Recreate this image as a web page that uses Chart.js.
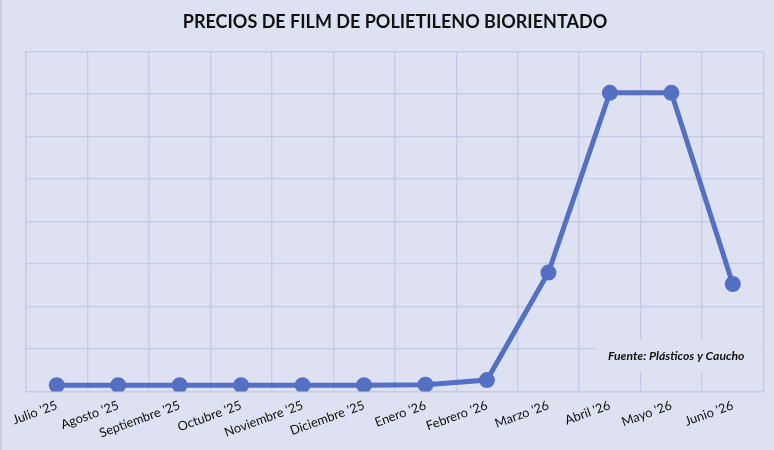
<!DOCTYPE html>
<html>
<head>
<meta charset="utf-8">
<script src="https://cdn.jsdelivr.net/npm/chart.js@4.4.0/dist/chart.umd.min.js"></script>
<style>
    html, body { margin: 0; padding: 0; background: #dde1f1; }
    #wrap { width: 772px; height: 450px; border-left: 2px solid #c9ccd8; }
</style>
</head>
<body>
<div id="wrap"><canvas id="precios" width="772" height="450"></canvas></div>
<script>
// Precios film BOPP, julio '25 - junio '26
const meses = ["Julio '25", "Agosto '25", "Septiembre '25", "Octubre '25", "Noviembre '25", "Diciembre '25",
    "Enero '26", "Febrero '26", "Marzo '26", "Abril '26", "Mayo '26", "Junio '26"];
const precios = [0.15, 0.15, 0.15, 0.15, 0.15, 0.15, 0.16, 0.27, 2.80, 7.03, 7.03, 2.53];
const fuente = 'Fuente: Plásticos y Caucho';

const BG = '#dde1f1';
const GRID = '#c3cbe6';
const LINE = '#5470c4';

// caja con la fuente, tapa la rejilla como en el original
const fuentePlugin = {
    id: 'fuente',
    beforeDatasetsDraw(chart) {
        const { ctx, chartArea } = chart;
        ctx.save();
        ctx.fillStyle = BG;
        ctx.fillRect(chartArea.right - 168, chartArea.bottom - 52, 166, 32);
        ctx.font = 'italic bold 12.2px Lato';
        ctx.fillStyle = '#111';
        ctx.textAlign = 'right';
        ctx.textBaseline = 'middle';
        ctx.fillText(fuente, chartArea.right - 19, chartArea.bottom - 35);
        ctx.restore();
    }
};

new Chart(document.getElementById('precios'), {
    type: 'line',
    data: {
        labels: meses,
        datasets: [{
            data: precios,
            borderColor: LINE,
            backgroundColor: LINE,
            borderWidth: 5,
            pointRadius: 5.5,
            pointHoverRadius: 5.5,
            tension: 0,
        }]
    },
    options: {
        responsive: false,
        animation: false,
        layout: { padding: { left: 24, right: 10, top: 0, bottom: 3 } },
        scales: {
            x: {
                offset: true,
                grid: { color: GRID, lineWidth: 1.3, drawTicks: false, offset: true },
                border: { color: GRID, width: 1.3 },
                ticks: {
                    color: '#111',
                    font: { family: 'Lato', size: 12.8 },
                    minRotation: 20,
                    maxRotation: 20,
                    padding: 6,
                }
            },
            y: {
                min: 0,
                max: 8,
                grid: { color: GRID, lineWidth: 1.3, drawTicks: false },
                border: { color: GRID, width: 1.3 },
                ticks: { display: false, stepSize: 1 },
            }
        },
        plugins: {
            legend: { display: false },
            tooltip: { enabled: false },
            title: {
                display: true,
                text: 'PRECIOS DE FILM DE POLIETILENO BIORIENTADO',
                color: '#111',
                font: { family: 'Lato', size: 18, weight: 'bold' },
                padding: { top: 11, bottom: 19 },
            }
        }
    },
    plugins: [fuentePlugin]
});
</script>
</body>
</html>
